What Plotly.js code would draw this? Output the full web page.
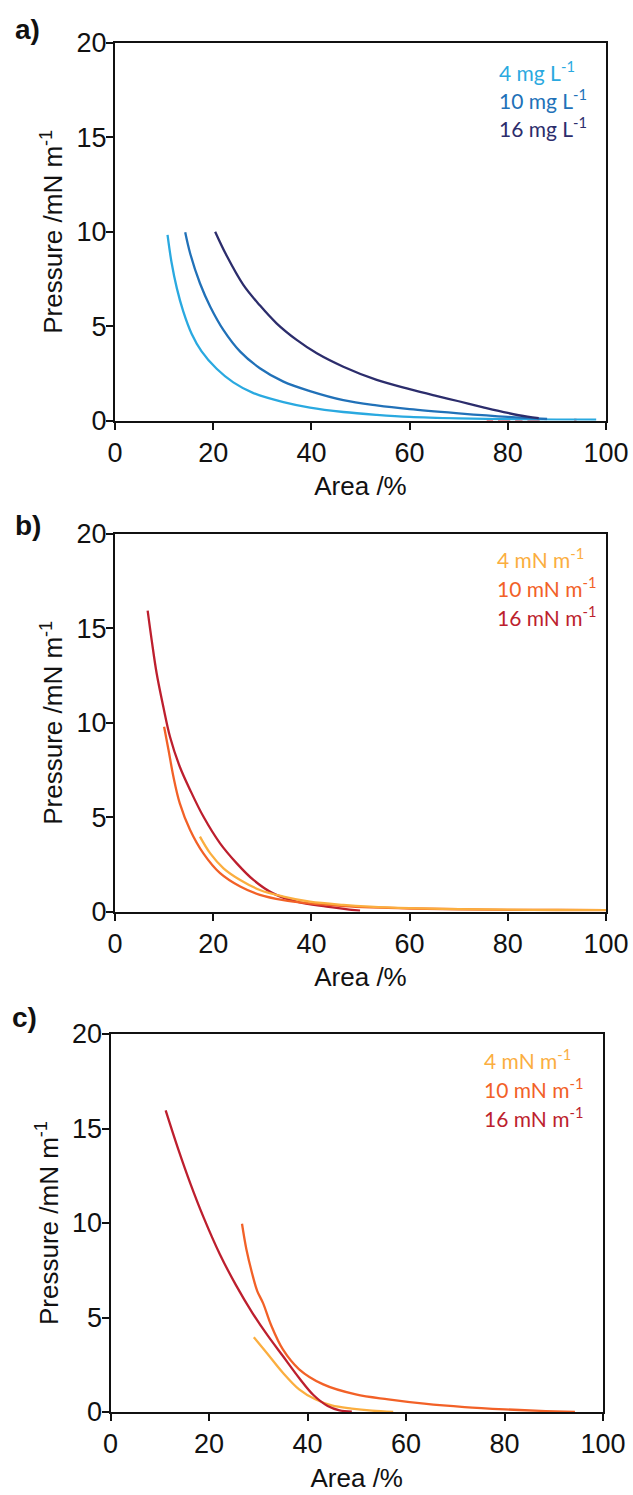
<!DOCTYPE html>
<html>
<head>
<meta charset="utf-8">
<script src="https://cdn.plot.ly/plotly-3.0.1.min.js"></script>
<style>html,body{margin:0;padding:0;background:#fff;}#chart{width:633px;height:1495px;}</style>
</head>
<body>
<div id="chart"></div>
<script>
// ---- Panel a: concentration series ----
const a4x = [10.7, 11.5, 12.6, 13.9, 15.6, 17.6, 20.7, 24.1, 28.2, 34.3, 39.7, 46.5, 53.3, 60.0, 70.0, 80.0, 90.0, 98.0];
const a4y = [9.83, 8.4, 7.0, 5.78, 4.6, 3.68, 2.74, 2.02, 1.45, 0.97, 0.68, 0.45, 0.3, 0.19, 0.11, 0.07, 0.05, 0.04];
const a10x = [14.3, 15.3, 17.3, 19.4, 22.1, 25.5, 29.5, 34.3, 39.7, 46.5, 53.3, 60.0, 70.0, 80.0, 88.0];
const a10y = [9.97, 8.86, 7.27, 6.03, 4.79, 3.65, 2.77, 2.06, 1.56, 1.08, 0.8, 0.6, 0.38, 0.19, 0.08];
const a16x = [20.4, 22.7, 26.1, 29.5, 32.9, 37.0, 41.1, 46.5, 53.3, 60.0, 65.0, 70.0, 75.0, 80.0, 84.0, 86.3];
const a16y = [10.0, 8.75, 7.2, 6.1, 5.15, 4.27, 3.56, 2.85, 2.15, 1.66, 1.33, 1.02, 0.7, 0.4, 0.2, 0.12];
const aRedX = [75.7, 77.0, null, 78.0, 80.5, null, 81.5, 83.0, null, 84.0, 86.5, null, 93.5, 94.0];
const aRedY = [0.03, 0.03, null, 0.03, 0.03, null, 0.03, 0.03, null, 0.03, 0.03, null, 0.03, 0.03];

// ---- Panel b: pressure series ----
const b4x = [17.3, 19.4, 22.1, 25.5, 29.5, 34.3, 39.7, 46.5, 51.9, 60.0, 70.0, 80.0, 90.0, 100.0];
const b4y = [3.97, 3.08, 2.29, 1.67, 1.14, 0.79, 0.52, 0.35, 0.26, 0.18, 0.13, 0.1, 0.08, 0.07];
const b10x = [10.0, 10.9, 11.9, 13.2, 15.3, 18.0, 21.4, 25.5, 29.5, 34.3, 39.7, 46.5, 51.9, 60.0, 70.0, 80.0, 90.0, 100.0];
const b10y = [9.79, 8.56, 7.14, 5.73, 4.32, 3.08, 2.03, 1.32, 0.88, 0.6, 0.43, 0.29, 0.22, 0.16, 0.12, 0.09, 0.08, 0.07];
const b16x = [6.65, 7.47, 8.48, 9.84, 11.2, 13.2, 15.3, 18.0, 21.4, 24.8, 28.2, 32.2, 37.0, 43.1, 49.9];
const b16y = [15.94, 14.38, 12.62, 10.85, 9.26, 7.67, 6.44, 5.03, 3.61, 2.55, 1.67, 0.96, 0.52, 0.26, 0.04];

// ---- Panel c: pressure series ----
const c4x = [29.1, 31.7, 35.0, 38.3, 41.6, 44.9, 49.0, 53.1, 57.4];
const c4y = [3.96, 3.14, 2.08, 1.2, 0.67, 0.35, 0.18, 0.07, 0.0];
const c10x = [26.7, 27.6, 28.9, 29.8, 31.0, 32.6, 35.0, 38.3, 43.2, 49.8, 56.4, 63.7, 71.9, 80.1, 88.4, 94.3];
const c10y = [9.96, 8.6, 7.19, 6.4, 5.75, 4.6, 3.31, 2.26, 1.46, 0.93, 0.67, 0.44, 0.26, 0.14, 0.05, 0.0];
const c16x = [11.2, 13.7, 16.2, 18.9, 22.2, 25.5, 28.8, 31.9, 35.0, 38.3, 41.2, 44.1, 46.5, 49.0];
const c16y = [15.96, 13.95, 12.1, 10.3, 8.35, 6.7, 5.25, 4.05, 2.96, 1.8, 0.9, 0.32, 0.09, 0.02];

// ---- labels ----
const labelsA = ["4 mg L<sup>-1</sup>", "10 mg L<sup>-1</sup>", "16 mg L<sup>-1</sup>"];
const labelsB = ["4 mN m<sup>-1</sup>", "10 mN m<sup>-1</sup>", "16 mN m<sup>-1</sup>"];
const panelLabels = ["a)", "b)", "c)"];
const xTitle = "Area /%";
const yTitle = "Pressure /mN m<sup>-1</sup>";

const colA = ["#2aa9e0", "#2171b8", "#2c2d6c"];
const colB = ["#fbae3f", "#f26127", "#bd1f2e"];

const W = 633, H = 1495;
const px = v => v / W;
const py = v => 1 - v / H;

function tr(x, y, color, xa, ya) {
  return {x: x, y: y, type: 'scatter', mode: 'lines', xaxis: xa, yaxis: ya,
    line: {color: color, width: 2.3, shape: 'spline', smoothing: 1.0},
    connectgaps: false, hoverinfo: 'skip', showlegend: false};
}

const data = [
  tr(aRedX, aRedY, "#ed1c24", 'x', 'y'),
  tr(a4x, a4y, colA[0], 'x', 'y'),
  tr(a10x, a10y, colA[1], 'x', 'y'),
  tr(a16x, a16y, colA[2], 'x', 'y'),
  tr(b16x, b16y, colB[2], 'x2', 'y2'),
  tr(b10x, b10y, colB[1], 'x2', 'y2'),
  tr(b4x, b4y, colB[0], 'x2', 'y2'),
  tr(c4x, c4y, colB[0], 'x3', 'y3'),
  tr(c16x, c16y, colB[2], 'x3', 'y3'),
  tr(c10x, c10y, colB[1], 'x3', 'y3')
];

const tickFont = {family: 'Liberation Sans, Arial, sans-serif', size: 27, color: '#111'};
const titleFont = {family: 'Liberation Sans, Arial, sans-serif', size: 26, color: '#111'};

function xax(domain, anchor) {
  return {domain: domain, anchor: anchor, range: [0, 100], dtick: 20, tick0: 0,
    showline: true, linecolor: '#111', linewidth: 2, mirror: true,
    ticks: 'outside', ticklen: 7, tickwidth: 2, tickcolor: '#111',
    showgrid: false, zeroline: false, tickfont: tickFont,
    title: {text: xTitle, font: titleFont, standoff: 10}, fixedrange: true};
}
function yax(domain, anchor) {
  return {domain: domain, anchor: anchor, range: [0, 20], dtick: 5, tick0: 0,
    showline: true, linecolor: '#111', linewidth: 2, mirror: true,
    ticks: 'outside', ticklen: 7, tickwidth: 2, tickcolor: '#111',
    ticklabelstandoff: -6,
    showgrid: false, zeroline: false, tickfont: tickFont,
    title: {text: yTitle, font: titleFont, standoff: 6}, fixedrange: true};
}

const legendFont = (c) => ({family: 'Lato, Open Sans, sans-serif', size: 21, color: c});

const annotations = [];
function addLegend(labels, colors, left, ys) {
  for (let i = 0; i < 3; i++) {
    annotations.push({xref: 'paper', yref: 'paper', x: px(left), y: py(ys[i]),
      xanchor: 'left', yanchor: 'middle', showarrow: false, text: labels[i], font: legendFont(colors[i])});
  }
}
addLegend(labelsA, colA, 497, [71, 99, 127]);
addLegend(labelsB, colB, 495, [558, 587, 616]);
addLegend(labelsB, colB, 482, [1059, 1088, 1117]);

const plY = [30, 525, 1018];
const plX = [13, 13, 10];
for (let i = 0; i < 3; i++) {
  annotations.push({xref: 'paper', yref: 'paper', x: px(plX[i]), y: py(plY[i]),
    xanchor: 'left', yanchor: 'middle', showarrow: false,
    text: '<b>' + panelLabels[i] + '</b>',
    font: {family: 'Liberation Sans, Arial, sans-serif', size: 28, color: '#111'}});
}

const layout = {
  width: W, height: H, margin: {l: 0, r: 0, t: 0, b: 0},
  paper_bgcolor: '#fff', plot_bgcolor: '#fff', showlegend: false,
  xaxis: xax([px(115), px(606)], 'y'),
  yaxis: yax([py(420.5), py(43)], 'x'),
  xaxis2: xax([px(115), px(606)], 'y2'),
  yaxis2: yax([py(911.5), py(534)], 'x2'),
  xaxis3: xax([px(110.5), px(603)], 'y3'),
  yaxis3: yax([py(1412), py(1034)], 'x3'),
  annotations: annotations
};

Plotly.newPlot('chart', data, layout, {displayModeBar: false, staticPlot: true});
</script>
</body>
</html>
